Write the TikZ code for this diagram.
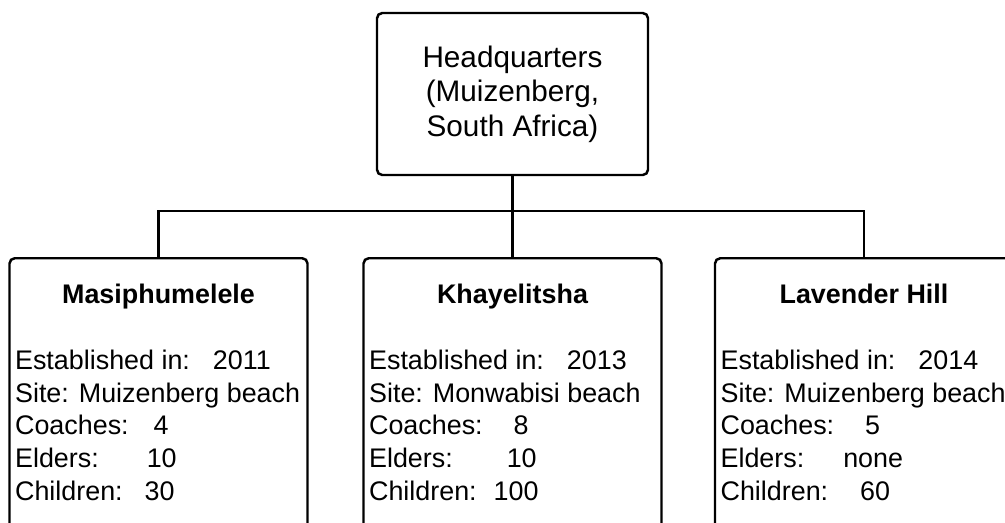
\documentclass[tikz,border=0pt]{standalone}
\usepackage{fontspec}
\setmainfont{Liberation Sans}
\usetikzlibrary{positioning}
\newcommand{\hqfont}{\fontsize{16.9}{19.7}\selectfont}
\newcommand{\sitefont}{\fontsize{15.3}{18.5}\selectfont}
\tikzset{
    hq/.style={draw, line width=1.4pt, rounded corners=3pt, minimum width=5.42cm, minimum height=3.24cm, align=center, font=\hqfont},
    site/.style={draw, line width=1.4pt, rounded corners=3pt, minimum width=5.96cm, minimum height=6cm, anchor=north},
    sitename/.style={font=\sitefont\bfseries, anchor=base, inner sep=0pt},
    siteinfo/.style={font=\sitefont, align=left, anchor=base west, inner sep=0pt},
    link/.style={line width=1.4pt}
}

\begin{document}
\begin{tikzpicture}
    \useasboundingbox (0,0) rectangle (20.1,-10.44);
    \clip (0,0) rectangle (20.1,-10.44);
    \node[hq] (hq) at (10.25,-1.88) {Headquarters\\(Muizenberg,\\South Africa)};
    \node[site] (masi) at (3.17,-5.14) {};
    \node[site] (khay) at (10.25,-5.14) {};
    \node[site] (lav) at (17.28,-5.14) {};
    % tree lines
    \draw[link] (hq.south) -- ++(0,-0.7) coordinate (bus);
    \draw[link] (masi.north) |- (bus) -| (lav.north);
    \draw[link] (bus) -- (khay.north);
    % site names
    \node[sitename] (masiname) at ([yshift=-0.92cm]masi.north) {Masiphumelele};
    \node[sitename] (khayname) at ([yshift=-0.92cm]khay.north) {Khayelitsha};
    \node[sitename] (lavname) at ([yshift=-0.92cm]lav.north) {Lavender Hill};
    % site details (base = last line)
    \node[siteinfo] (masiinfo) at ([xshift=0.13cm, yshift=-4.86cm]masi.north west)
        {Established in:\hspace{0.46cm}2011\\Site: Muizenberg beach\\Coaches:\hspace{0.5cm}4\\Elders:\hspace{0.96cm}10\\Children:\hspace{0.44cm}30};
    \node[siteinfo] (khayinfo) at ([xshift=0.13cm, yshift=-4.86cm]khay.north west)
        {Established in:\hspace{0.46cm}2013\\Site: Monwabisi beach\\Coaches:\hspace{0.62cm}8\\Elders:\hspace{1.08cm}10\\Children:\hspace{0.34cm}100};
    \node[siteinfo] (lavinfo) at ([xshift=0.13cm, yshift=-4.86cm]lav.north west)
        {Established in:\hspace{0.46cm}2014\\Site: Muizenberg beach\\Coaches:\hspace{0.62cm}5\\Elders:\hspace{0.78cm}none\\Children:\hspace{0.64cm}60};
\end{tikzpicture}
\end{document}
